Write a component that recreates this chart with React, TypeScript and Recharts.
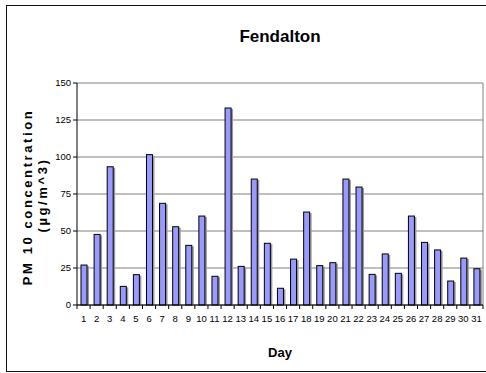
import React from "react";
import { BarChart, Bar, XAxis, YAxis, CartesianGrid } from "recharts";

const days = [
  "1", "2", "3", "4", "5", "6", "7", "8", "9", "10", "11", "12", "13", "14", "15", "16",
  "17", "18", "19", "20", "21", "22", "23", "24", "25", "26", "27", "28", "29", "30", "31",
];
const pm10 = [
  27, 47.7, 93.4, 12.6, 20.5, 101.6, 68.7, 52.9, 40.3, 60.1, 19.4, 133.1, 26.1, 85.1, 41.7, 11.3,
  31, 62.8, 26.6, 28.6, 85.1, 79.7, 20.7, 34.5, 21.4, 60.1, 42.3, 37.2, 16.2, 31.7, 24.5,
];
const yTicks = [0, 25, 50, 75, 100, 125, 150];

const data = days.map((d, i) => ({ day: d, value: pm10[i] }));

const W = 486;
const H = 373;
const PLOT_LEFT = 77;
const PLOT_RIGHT = 483;
const BAND = (PLOT_RIGHT - PLOT_LEFT) / days.length;
const narrow = "'Liberation Sans Narrow', 'Arial Narrow', 'Liberation Sans', Arial, sans-serif";
const sans = "'Liberation Sans', Arial, sans-serif";

const ShadowBar = (props: any) => {
  const { x, y, width, height } = props;
  if (!height || height <= 0) return null;
  return (
    <g>
      <rect x={x + 2} y={y + 1} width={width} height={height - 1} fill="#9a9a9a" />
      <rect x={x} y={y} width={width} height={height} fill="#9999FF" stroke="#000" strokeWidth={1} />
    </g>
  );
};

const DayTick = (props: any) => {
  const { x, y, payload, index } = props;
  const left = x - BAND / 2;
  return (
    <g>
      <line x1={left} y1={y - 8} x2={left} y2={y - 4} stroke="#000" />
      {index === days.length - 1 && (
        <line x1={left + BAND} y1={y - 8} x2={left + BAND} y2={y - 4} stroke="#000" />
      )}
      <text x={x} y={y + 9} textAnchor="middle" fontSize={9.5} fontFamily={narrow} fill="#000">
        {payload.value}
      </text>
    </g>
  );
};

const YTitle = () => (
  <text
    transform="rotate(-90)"
    textAnchor="middle"
    fontFamily={sans}
    fontWeight="bold"
    fontSize={13}
    fill="#000"
  >
    <tspan x={-197} y={32} letterSpacing={2.6}>PM 10 concentration</tspan>
    <tspan x={-195} y={47} letterSpacing={2.6}>(µg/m^3)</tspan>
  </text>
);

export default function App() {
  return (
    <div style={{ position: "absolute", left: 0, top: 0, width: W, height: H, background: "#fff" }}>
      <div
        style={{
          position: "absolute",
          left: 6,
          top: 5,
          width: W,
          height: 367,
          border: "1px solid #111",
          boxSizing: "border-box",
        }}
      />
      <BarChart
        width={W}
        height={H}
        data={data}
        margin={{ top: 83, right: W - PLOT_RIGHT, bottom: 0, left: 0 }}
        barSize={6}
        style={{ position: "absolute", left: 0, top: 0 }}
      >
        <text x={280} y={42} textAnchor="middle" fontFamily={sans} fontWeight="bold" fontSize={17} fill="#000">
          Fendalton
        </text>
        <CartesianGrid
          stroke="#808080"
          strokeWidth={1}
          verticalPoints={[PLOT_RIGHT]}
        />
        <XAxis
          dataKey="day"
          interval={0}
          axisLine={{ stroke: "#000" }}
          tickLine={false}
          tick={<DayTick />}
          height={68}
          label={{
            value: "Day",
            position: "insideBottom",
            offset: 16,
            fontFamily: sans,
            fontWeight: "bold",
            fontSize: 13,
            fill: "#000",
          }}
        />
        <YAxis
          width={PLOT_LEFT}
          domain={[0, 150]}
          ticks={yTicks}
          interval={0}
          axisLine={{ stroke: "#000" }}
          tickLine={{ stroke: "#000" }}
          tickSize={4}
          tick={{ fontSize: 9.5, fontFamily: narrow, fill: "#000" }}
          label={<YTitle />}
        />
        <Bar dataKey="value" shape={<ShadowBar />} isAnimationActive={false} />
      </BarChart>
    </div>
  );
}
